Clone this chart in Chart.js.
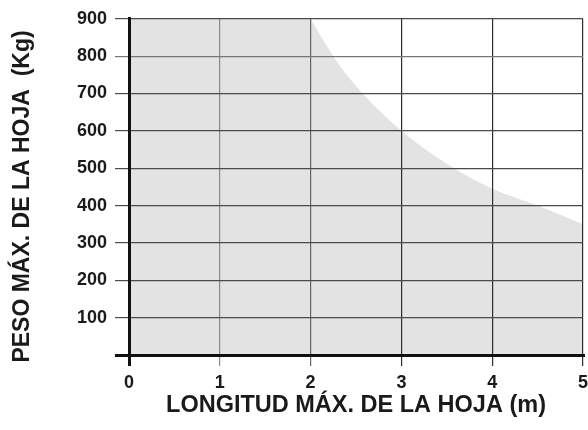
<!DOCTYPE html>
<html>
<head>
<meta charset="utf-8">
<script src="https://cdn.jsdelivr.net/npm/chart.js@4/dist/chart.umd.min.js"></script>
<style>
  html, body { margin: 0; padding: 0; background: #ffffff; }
  #wrap { width: 588px; height: 430px; }
</style>
</head>
<body>
<div id="wrap"><canvas id="c" width="588" height="430"></canvas></div>
<script>
// Data
const flatLengths = [0, 2];
const flatWeights = [900, 900];
const curveLengths = [2, 2.25, 2.5, 3, 3.5, 4, 4.5, 5];
const curveWeights = [900, 800, 720, 600, 512, 445, 400, 350];
const xTicks = [0, 1, 2, 3, 4, 5];
const yTicks = [0, 100, 200, 300, 400, 500, 600, 700, 800, 900];
const xTitle = 'LONGITUD MÁX. DE LA HOJA (m)';
const yTitle = 'PESO MÁX. DE LA HOJA  (Kg)';

const toPts = (xs, ys) => xs.map((x, i) => ({ x: x, y: ys[i] }));
const FILL = '#e3e3e3';
const FONT = '"Liberation Sans", Arial, Helvetica, sans-serif';

const xGridColor = (v) => {
  if (v === 0) return '#111';
  if (v === 1) return '#8a8a8a';
  if (v === 2) return '#666';
  return '#2e2e2e';
};
const yGridColor = (v) => {
  if (v === 0) return '#111';
  if (v === 800) return '#777';
  return '#4a4a4a';
};

new Chart(document.getElementById('c'), {
  type: 'line',
  data: {
    datasets: [
      {
        data: toPts(flatLengths, flatWeights),
        fill: 'origin',
        backgroundColor: FILL,
        borderWidth: 0,
        pointRadius: 0,
        tension: 0
      },
      {
        data: toPts(curveLengths, curveWeights),
        fill: 'origin',
        backgroundColor: FILL,
        borderWidth: 0,
        pointRadius: 0,
        cubicInterpolationMode: 'monotone'
      }
    ]
  },
  options: {
    responsive: false,
    animation: false,
    events: [],
    layout: { padding: { top: 18, right: 5, left: 0, bottom: 0 } },
    plugins: { legend: { display: false }, tooltip: { enabled: false } },
    scales: {
      x: {
        type: 'linear',
        min: xTicks[0],
        max: xTicks[xTicks.length - 1],
        afterBuildTicks: (s) => { s.ticks = xTicks.map(v => ({ value: v })); },
        afterFit: (s) => { s.height = 75; s.paddingRight = 5; s.paddingLeft = 0; },
        border: { display: true, color: '#111', width: 3, z: 3 },
        grid: {
          z: 1,
          drawTicks: true,
          tickLength: 11,
          color: (ctx) => xGridColor(ctx.tick ? ctx.tick.value : -1),
          tickColor: (ctx) => xGridColor(ctx.tick ? ctx.tick.value : -1),
          lineWidth: (ctx) => (ctx.tick && ctx.tick.value === 0) ? 3 : 1.2
        },
        ticks: {
          z: 2,
          padding: 6,
          color: '#1a1a1a',
          font: { family: FONT, size: 18, weight: 'bold' },
          maxRotation: 0,
          autoSkip: false
        },
        title: {
          display: true,
          text: xTitle,
          color: '#1a1a1a',
          font: { family: FONT, size: 23.5, weight: 'bold' },
          padding: { top: 0, bottom: 10 }
        }
      },
      y: {
        type: 'linear',
        min: yTicks[0],
        max: yTicks[yTicks.length - 1],
        afterBuildTicks: (s) => { s.ticks = yTicks.map(v => ({ value: v })); },
        afterFit: (s) => { s.width = 129; },
        border: { display: true, color: '#111', width: 3, z: 3 },
        grid: {
          z: 1,
          drawTicks: true,
          tickLength: 14,
          color: (ctx) => yGridColor(ctx.tick ? ctx.tick.value : -1),
          tickColor: (ctx) => yGridColor(ctx.tick ? ctx.tick.value : -1),
          lineWidth: (ctx) => (ctx.tick && ctx.tick.value === 0) ? 3 : 1.2
        },
        ticks: {
          z: 2,
          padding: 8,
          color: '#1a1a1a',
          font: { family: FONT, size: 18, weight: 'bold' },
          autoSkip: false,
          callback: (v) => v === 0 ? '' : String(v)
        },
        title: {
          display: true,
          text: yTitle + '   ',
          color: '#1a1a1a',
          font: { family: FONT, size: 23, weight: 'bold' },
          padding: { top: 9, bottom: 0 }
        }
      }
    }
  }
});
</script>
</body>
</html>
